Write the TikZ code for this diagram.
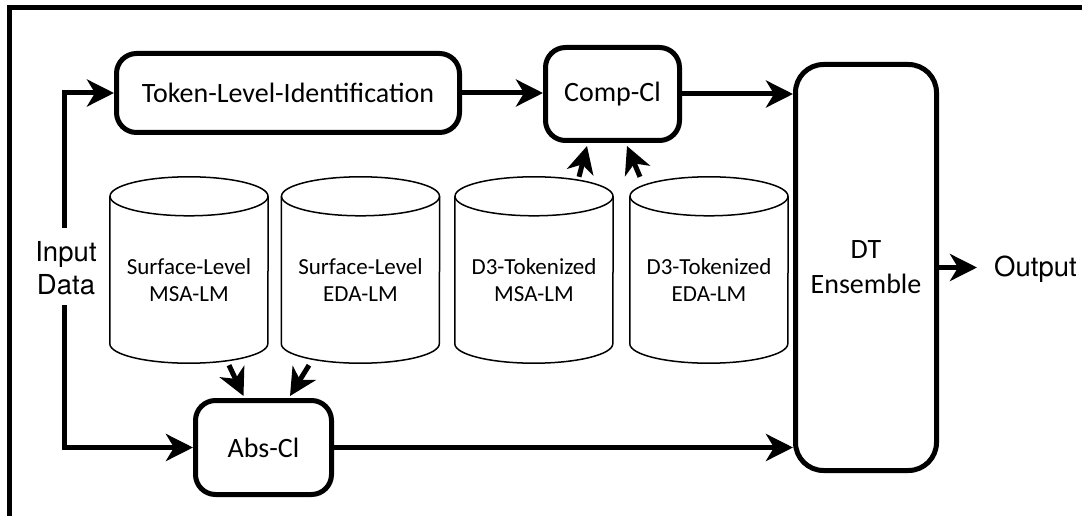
\documentclass[tikz,border=0pt]{standalone}
\usepackage{fontspec}
\setmainfont{Carlito}
\newfontfamily\helv{TeX Gyre Heros}
\usetikzlibrary{arrows.meta,calc}
\begin{document}
\begin{tikzpicture}[x=1pt,y=-1pt,
  box/.style={draw, line width=5pt, rounded corners=20pt, align=center, inner sep=0pt, font=\fontsize{28}{35}\selectfont},
  cylbody/.style={minimum width=158pt, minimum height=186pt, inner sep=0pt},
  cyltext/.style={align=center, font=\fontsize{23}{27}\selectfont, inner sep=0pt},
  cylline/.style={line width=1.5pt},
  arr/.style={line width=5pt, -{Stealth[length=27pt,width=27pt,inset=8pt]}},
  plain/.style={font=\helv\fontsize{27.5}{33}\selectfont, align=center, inner sep=0pt},
]
\useasboundingbox (0,0) rectangle (1082,516);
\draw[line width=5.5pt] (9.5,516) -- (9.5,7.5) -- (1082,7.5);

% boxes
\node[box, minimum width=343pt, minimum height=79pt] (tok) at (288,93) {Token-Level-Identification};
\node[box, minimum width=134pt, minimum height=93pt] (comp) at (612.5,94) {Comp-Cl};
\node[box, rounded corners=28pt, minimum width=141pt, minimum height=406pt] (dt) at (866,267.5) {DT\\Ensemble};
\node[box, minimum width=136pt, minimum height=94pt] (abs) at (263.5,447.5) {Abs-Cl};

% cylinders
\node[cylbody] (c1) at (189,270) {};
\node[cylbody] (c2) at (360.5,270) {};
\node[cylbody] (c3) at (534,270) {};
\node[cylbody] (c4) at (709,270) {};
\foreach \n in {c1,c2,c3,c4}{
  \draw[cylline] ($(\n.north west)+(0,19.5)$) -- ($(\n.south west)+(0,-19.5)$)
     arc[start angle=180, end angle=0, x radius=79, y radius=19.5]
     -- ($(\n.north east)+(0,19.5)$);
  \draw[cylline] ($(\n.north)+(0,19.5)$) ellipse[x radius=79, y radius=19.5];
}
\node[cyltext] (t1) at (189,280) {Surface-Level\\MSA-LM};
\node[cyltext] (t2) at (360.5,280) {Surface-Level\\EDA-LM};
\node[cyltext] (t3) at (534,280) {D3-Tokenized\\MSA-LM};
\node[cyltext] (t4) at (709,280) {D3-Tokenized\\EDA-LM};

% labels
\node[plain] (inp) at (66,268.5) {Input\\Data};
\node[plain, anchor=west, inner xsep=17pt] (out) at (977,269.5) {Output};
\coordinate (in1) at (64,228);
\coordinate (in2) at (64,305);

% connectors
\draw[arr] (in1) |- (tok.west);
\draw[arr] (in2) |- (abs.west);
\draw[arr] (tok.east) -- (comp.west |- tok.east);
\draw[arr] (comp.east) -- (dt.west |- comp.east);
\draw[arr] (abs.east) -- (dt.west |- abs.east);
\draw[arr] (dt.east) -- (out.west |- dt.east);
\draw[arr] ($(c1.south)+(40,2)$) -- ($(abs.north)+(-20,-2)$);
\draw[arr] ($(c2.south)+(-51.5,2)$) -- ($(abs.north)+(26.5,-2)$);
\draw[arr] ($(c3.north)+(45,0)$) -- ($(comp.south)+(-25.5,3)$);
\draw[arr] ($(c4.north)+(-69,0)$) -- ($(comp.south)+(14.5,3)$);
\end{tikzpicture}
\end{document}
